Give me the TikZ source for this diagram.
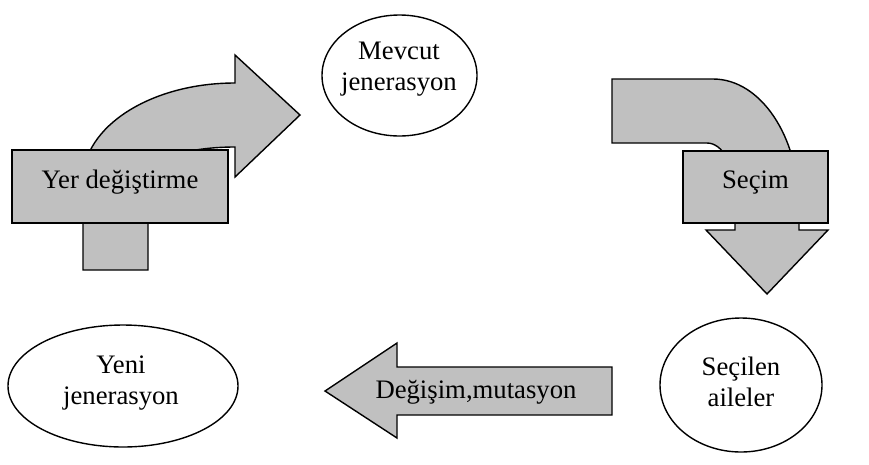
\documentclass[tikz,border=0pt]{standalone}
\usepackage{fontspec}
\setmainfont{Liberation Serif}
\usetikzlibrary{shapes.geometric}
\definecolor{shapegray}{HTML}{C0C0C0}
\tikzset{
  block/.style={draw=black, line width=1.4pt, fill=shapegray, line join=miter},
  oval/.style={draw=black, line width=1.4pt, fill=white, ellipse, inner sep=0pt},
  lbl/.style={font=\fontsize{26.7}{31}\selectfont, align=center, inner sep=0pt, text=black}
}
\begin{document}
\begin{tikzpicture}[x=1pt, y=-1pt]
\useasboundingbox (0,0) rectangle (869,464);

% generation ovals
\node[oval, minimum width=155pt, minimum height=121pt] (mevcut) at (399.5,75.5) {};
\node[oval, minimum width=230pt, minimum height=122pt] (yeni) at (123,386) {};
\node[oval, minimum width=162pt, minimum height=134pt] (secilen) at (741,385) {};
\node[lbl] (mevcutT) at (399,69) {Mevcut\\jenerasyon};
\node[lbl] (yeniT) at (121,383) {Yeni\\jenerasyon};
\node[lbl] (secilenT) at (741,382) {Seçilen\\aileler};

% replacement: bent arrow rising from the stem and turning right
\draw[block] (83,270) -- (83,180)
  .. controls (83,126.4) and (151.1,83) .. (235,83)
  -- (235,55) -- (300,115) -- (235,177) -- (235,147)
  .. controls (187,147) and (148,159.5) .. (148,175)
  -- (148,270) -- cycle;
\node[block, minimum width=216pt, minimum height=73pt, inner sep=0pt] (yer) at (120,186.5) {};
\node[lbl, anchor=base] (yerT) at (120,188) {Yer değiştirme};

% selection: arrow coming from the left and turning down
\draw[block] (612,79) -- (713,79)
  .. controls (760.5,79) and (799,136.3) .. (799,207)
  -- (799,230) -- (828,230) -- (767,294) -- (706,230) -- (735,230) -- (735,193)
  .. controls (735,165.4) and (722.5,143) .. (707,143)
  -- (612,143) -- cycle;
\node[block, minimum width=145pt, minimum height=72pt, inner sep=0pt] (secim) at (755.5,187) {};
\node[lbl, anchor=base] (secimT) at (755.5,188) {Seçim};

% crossover and mutation: arrow pointing left
\draw[block] (612,367) -- (397,367) -- (397,343) -- (325,391) -- (397,438) -- (397,415) -- (612,415) -- cycle;
\node[lbl, anchor=base] (degisimT) at (476,398) {Değişim,mutasyon};
\end{tikzpicture}
\end{document}
